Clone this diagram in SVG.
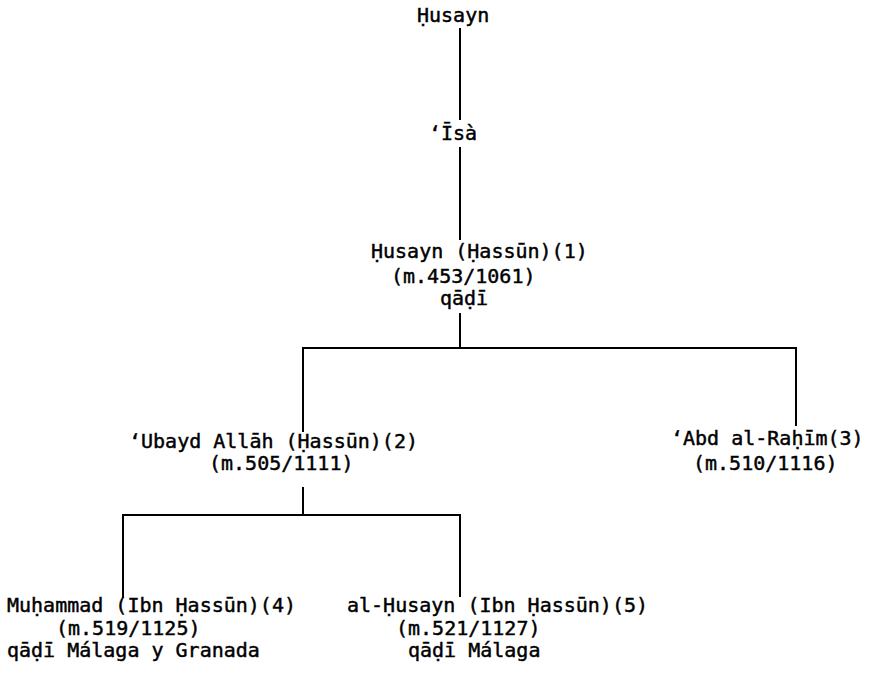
<svg xmlns="http://www.w3.org/2000/svg" width="869" height="674" viewBox="0 0 869 674">
<style>
text{font-family:"DejaVu Sans Mono","Liberation Mono",monospace;font-size:20px;fill:#000;stroke:#000;stroke-width:0.45}
.c line{stroke:#000;stroke-width:2;fill:none}
</style>
<rect width="869" height="674" fill="#fff"/>
<g class="c" id="connectors">
<line x1="460" y1="28" x2="460" y2="120"/>
<line x1="460" y1="147" x2="460" y2="240"/>
<line x1="460" y1="313" x2="460" y2="348"/>
<line x1="303" y1="348" x2="797" y2="348"/>
<line x1="303" y1="347" x2="303" y2="432"/>
<line x1="796" y1="347" x2="796" y2="426"/>
<line x1="303" y1="487" x2="303" y2="516"/>
<line x1="123" y1="515" x2="461" y2="515"/>
<line x1="123" y1="514" x2="123" y2="598"/>
<line x1="460" y1="514" x2="460" y2="597"/>
</g>
<g id="n0"><text x="417" y="22">Ḥusayn</text></g>
<g id="n1"><text x="429" y="140">ʻĪsà</text></g>
<g id="n2">
<text x="371" y="258">Ḥusayn (Ḥassūn)(1)</text>
<text x="391" y="283">(m.453/1061)</text>
<text x="440" y="305">qāḍī</text>
</g>
<g id="n3">
<text x="129" y="448">ʻUbayd Allāh (Ḥassūn)(2)</text>
<text x="209" y="470">(m.505/1111)</text>
</g>
<g id="n4">
<text x="671" y="445">ʻAbd al-Raḥīm(3)</text>
<text x="693" y="470">(m.510/1116)</text>
</g>
<g id="n5">
<text x="7" y="612">Muḥammad (Ibn Ḥassūn)(4)</text>
<text x="56" y="635">(m.519/1125)</text>
<text x="7" y="657">qāḍī Málaga y Granada</text>
</g>
<g id="n6">
<text x="347" y="612">al-Ḥusayn (Ibn Ḥassūn)(5)</text>
<text x="396" y="635">(m.521/1127)</text>
<text x="408" y="657">qāḍī Málaga</text>
</g>
</svg>
